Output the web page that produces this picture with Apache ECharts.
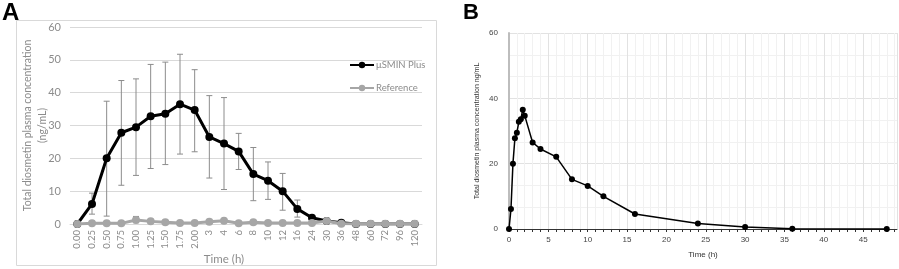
<!DOCTYPE html>
<html>
<head>
<meta charset="utf-8">
<script src="https://cdn.jsdelivr.net/npm/echarts@6/dist/echarts.min.js"></script>
<style>
  html, body { margin: 0; padding: 0; background: #fff; }
  #main { width: 899px; height: 269px; }
</style>
</head>
<body>
<div id="main"></div>
<script>
// panel A: category time points
var timeLabels = ['0.00','0.25','0.50','0.75','1.00','1.25','1.50','1.75','2.00','3','4','6','8','10','12','16','24','30','36','48','60','72','96','120'];
var sminMean  = [0, 6.1, 20.0, 27.8, 29.5, 32.8, 33.6, 36.5, 34.7, 26.5, 24.5, 22.1, 15.2, 13.2, 10.0, 4.6, 1.9, 0.9, 0.4, 0, 0, 0, 0, 0];
var sminUpper = [null, 9.4, 37.4, 43.7, 44.2, 48.6, 49.3, 51.7, 47.0, 39.1, 38.5, 27.6, 23.3, 18.9, 15.4, 7.3, null, null, null, null, null, null, null, null];
var sminLower = [null, 3.0, 2.4, 11.8, 14.8, 16.9, 18.1, 21.3, 22.0, 14.0, 10.5, 16.6, 7.1, 7.5, 4.2, 2.1, null, null, null, null, null, null, null, null];
var refMean   = [0, 0.2, 0.2, 0.2, 1.2, 0.8, 0.5, 0.3, 0.3, 0.7, 1.0, 0.2, 0.5, 0.3, 0.3, 0.3, 0.3, 0.9, 0.1, 0.1, 0.1, 0.1, 0.1, 0.1];
var refUpper  = [null, null, null, null, 2.3, null, null, null, null, null, 1.5, null, null, null, null, null, null, null, null, null, null, null, null, null];
var refLower  = [null, null, null, null, 0.4, null, null, null, null, null, 0.6, null, null, null, null, null, null, null, null, null, null, null, null, null];

// panel B: numeric time (h) and concentration
var timeB = [0, 0.25, 0.5, 0.75, 1, 1.25, 1.5, 1.75, 2, 3, 4, 6, 8, 10, 12, 16, 24, 30, 36, 48];
var concB = [0, 6.1, 20.0, 27.8, 29.5, 32.8, 33.6, 36.5, 34.7, 26.5, 24.5, 22.1, 15.2, 13.2, 10.0, 4.6, 1.7, 0.6, 0.1, 0];

function errData(up, lo) {
  var out = [];
  for (var i = 0; i < up.length; i++) {
    if (up[i] != null) out.push([i, lo[i], up[i]]);
  }
  return out;
}

function errRender(color) {
  return function (params, api) {
    var x = api.value(0);
    var lo = api.coord([x, api.value(1)]);
    var hi = api.coord([x, api.value(2)]);
    var w = 3;
    var st = { stroke: color, lineWidth: 1 };
    return {
      type: 'group',
      children: [
        { type: 'line', shape: { x1: hi[0], y1: hi[1], x2: lo[0], y2: lo[1] }, style: st },
        { type: 'line', shape: { x1: hi[0] - w, y1: hi[1], x2: hi[0] + w, y2: hi[1] }, style: st },
        { type: 'line', shape: { x1: lo[0] - w, y1: lo[1], x2: lo[0] + w, y2: lo[1] }, style: st }
      ]
    };
  };
}

var pairsB = timeB.map(function (t, i) { return [t, concB[i]]; });

var grayTxt = '#8c8c8c';
var myChart = echarts.init(document.getElementById('main'));
var option = {
  animation: false,
  textStyle: { fontFamily: 'Lato' },
  graphic: [
    { type: 'rect', shape: { x: 16.5, y: 20.5, width: 420, height: 245 }, style: { fill: 'none', stroke: '#d9d9d9', lineWidth: 1 }, z: -1 },
    { type: 'text', left: 2, top: 1, style: { text: 'A', font: 'bold 24px Liberation Sans', fill: '#000' } },
    { type: 'text', left: 463, top: 2, style: { text: 'B', font: 'bold 22px Liberation Sans', fill: '#000' } }
  ],
  legend: {
    data: ['μSMIN Plus', 'Reference'],
    orient: 'vertical',
    left: 344,
    top: 55,
    itemWidth: 24,
    itemHeight: 8,
    itemGap: 13,
    textStyle: { color: grayTxt, fontSize: 9.5, fontFamily: 'Lato', padding: [0, 0, 0, -3] }
  },
  grid: [
    { left: 70, right: 477, top: 27, bottom: 45, outerBoundsMode: 'none' },
    { left: 509, right: 2, top: 33, bottom: 40, outerBoundsMode: 'none' }
  ],
  xAxis: [
    {
      gridIndex: 0, type: 'category', data: timeLabels, boundaryGap: true,
      name: 'Time (h)', nameLocation: 'middle', nameGap: 29, nameMoveOverlap: false,
      nameTextStyle: { color: grayTxt, fontSize: 11.5, padding: [0, 44, 0, 0] },
      axisLine: { show: true, lineStyle: { color: '#d9d9d9' } },
      axisTick: { show: false },
      axisLabel: { rotate: 90, color: grayTxt, fontSize: 9.5, margin: 6, interval: 0 }
    },
    {
      gridIndex: 1, type: 'value', min: 0, max: 49.3, interval: 1,
      name: 'Time (h)', nameLocation: 'middle', nameGap: 22,
      nameTextStyle: { color: '#333', fontSize: 8, fontFamily: 'Liberation Sans' },
      axisLine: { show: true, onZero: false, lineStyle: { color: '#333', width: 1 } },
      axisTick: { show: true, length: 3, lineStyle: { color: '#333' } },
      axisLabel: {
        color: '#444', fontSize: 8, fontFamily: 'Liberation Sans', margin: 7, showMaxLabel: false,
        formatter: function (v) { return (v % 5 === 0) ? String(v) : ''; }
      },
      splitLine: { show: true, lineStyle: { color: ['#e2e2e2', '#f1f1f1', '#f1f1f1', '#f1f1f1', '#f1f1f1'], width: 1 } }
    }
  ],
  yAxis: [
    {
      gridIndex: 0, type: 'value', min: 0, max: 60, interval: 10,
      name: 'Total diosmetin plasma concentration\n(ng/mL)', nameLocation: 'middle', nameGap: 20, nameMoveOverlap: false,
      nameTextStyle: { color: grayTxt, fontSize: 10.5, lineHeight: 15 },
      axisLine: { show: false }, axisTick: { show: false },
      axisLabel: { color: grayTxt, fontSize: 11, margin: 9 },
      splitLine: { lineStyle: { color: '#d9d9d9' } }
    },
    {
      gridIndex: 1, type: 'value', min: 0, max: 60, interval: 20,
      name: 'Total diosmetin plasma concentration ng/mL', nameLocation: 'middle', nameGap: 28,
      nameTextStyle: { color: '#333', fontSize: 7, fontFamily: 'Liberation Sans' },
      axisLine: { show: true, lineStyle: { color: '#bdbdbd', width: 2 } },
      axisTick: { show: false },
      axisLabel: { color: '#444', fontSize: 8, fontFamily: 'Liberation Sans', margin: 11 },
      splitLine: { lineStyle: { color: '#e2e2e2' } },
      minorTick: { show: false, splitNumber: 3 },
      minorSplitLine: { show: true, lineStyle: { color: '#f1f1f1' } }
    }
  ],
  series: [
    {
      type: 'custom', xAxisIndex: 0, yAxisIndex: 0, renderItem: errRender('#8c8c8c'),
      data: errData(sminUpper, sminLower), z: 1, silent: true
    },
    {
      type: 'custom', xAxisIndex: 0, yAxisIndex: 0, renderItem: errRender('#8c8c8c'),
      data: errData(refUpper, refLower), z: 1, silent: true
    },
    {
      name: 'μSMIN Plus', type: 'line', xAxisIndex: 0, yAxisIndex: 0, data: sminMean,
      symbol: 'circle', symbolSize: 8, z: 3,
      lineStyle: { color: '#000', width: 3 }, itemStyle: { color: '#000' }
    },
    {
      name: 'Reference', type: 'line', xAxisIndex: 0, yAxisIndex: 0, data: refMean,
      symbol: 'circle', symbolSize: 8, z: 4,
      lineStyle: { color: '#a6a6a6', width: 3 }, itemStyle: { color: '#a6a6a6' }
    },
    {
      name: 'B', type: 'line', xAxisIndex: 1, yAxisIndex: 1, data: pairsB,
      symbol: 'circle', symbolSize: 6, clip: false, z: 3,
      lineStyle: { color: '#000', width: 1.5 }, itemStyle: { color: '#000' }
    }
  ]
};
myChart.setOption(option);
</script>
</body>
</html>
